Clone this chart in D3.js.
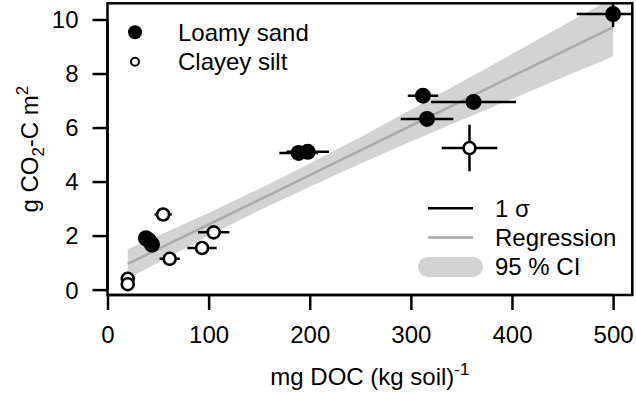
<!DOCTYPE html>
<html>
<head>
<meta charset="utf-8">
<script src="https://cdn.jsdelivr.net/npm/d3@7"></script>
<style>
  body { margin: 0; background: #fff; }
  text { font-family: "Liberation Sans", Arial, sans-serif; fill: #000; }
</style>
</head>
<body>
<svg id="chart" width="636" height="394"></svg>
<script>
// Loamy sand (filled points)
const loamyDoc   = [500, 312, 362, 316, 189, 198, 38, 41, 44];
const loamyCo2   = [10.2, 7.18, 6.95, 6.32, 5.06, 5.10, 1.90, 1.82, 1.67];
const loamyDocSd = [36, 15, 42, 26, 19, 21, 3, 3, 3];
const loamyCo2Sd = [0.48, 0.15, 0.12, 0.15, 0.1, 0.1, 0.1, 0.1, 0.1];

// Clayey silt (open points)
const clayDoc   = [358, 55, 105, 93.5, 61.5, 20, 20];
const clayCo2   = [5.24, 2.78, 2.12, 1.54, 1.14, 0.40, 0.20];
const clayDocSd = [27.5, 8.5, 15.5, 14.5, 10, 2, 2];
const clayCo2Sd = [0.86, 0.1, 0.1, 0.1, 0.1, 0.05, 0.05];

// regression line and 95 % confidence band
const regDoc = [20, 500];
const regCo2 = [0.95, 9.72];
const ciDoc   = [20, 60, 100, 150, 200, 250, 300, 350, 400, 450, 500];
const ciLower = [0.40, 1.20, 1.99, 2.93, 3.81, 4.66, 5.48, 6.28, 7.06, 7.85, 8.63];
const ciUpper = [1.50, 2.16, 2.84, 3.73, 4.67, 5.64, 6.66, 7.69, 8.72, 9.77, 10.81];

const xTicks = [0, 100, 200, 300, 400, 500];
const yTicks = [0, 2, 4, 6, 8, 10];

const svg = d3.select("#chart");
const FS = 24;

const x = d3.scaleLinear().domain([0, 519]).range([107.5, 632.3]);
const y = d3.scaleLinear().domain([-0.2, 10.6]).range([295, 3.3]);

svg.append("clipPath").attr("id", "plotclip")
  .append("rect")
  .attr("x", x.range()[0]).attr("y", y.range()[1])
  .attr("width", x.range()[1] - x.range()[0])
  .attr("height", y.range()[0] - y.range()[1]);

const plot = svg.append("g").attr("clip-path", "url(#plotclip)");

// confidence band
const band = ciDoc.map((d, i) => ({ x: d, lo: ciLower[i], hi: ciUpper[i] }));
plot.append("path")
  .datum(band)
  .attr("fill", "#d3d3d3")
  .attr("d", d3.area().x(d => x(d.x)).y0(d => y(d.lo)).y1(d => y(d.hi)));

// regression line
plot.append("path")
  .datum(regDoc.map((d, i) => [d, regCo2[i]]))
  .attr("fill", "none")
  .attr("stroke", "#a9a9a9")
  .attr("stroke-width", 2.5)
  .attr("d", d3.line().x(d => x(d[0])).y(d => y(d[1])));

const loamy = loamyDoc.map((d, i) => ({ x: d, y: loamyCo2[i], sx: loamyDocSd[i], sy: loamyCo2Sd[i] }));
const clay = clayDoc.map((d, i) => ({ x: d, y: clayCo2[i], sx: clayDocSd[i], sy: clayCo2Sd[i] }));
const all = loamy.concat(clay);

// 1 sigma error bars
const bars = plot.append("g").attr("stroke", "#000").attr("stroke-width", 2.5);
bars.selectAll(".ex").data(all).enter().append("line")
  .attr("x1", d => x(d.x - d.sx)).attr("x2", d => x(d.x + d.sx))
  .attr("y1", d => y(d.y)).attr("y2", d => y(d.y));
bars.selectAll(".ey").data(all).enter().append("line")
  .attr("x1", d => x(d.x)).attr("x2", d => x(d.x))
  .attr("y1", d => y(d.y - d.sy)).attr("y2", d => y(d.y + d.sy));

// points
plot.selectAll(".loamy").data(loamy).enter().append("circle")
  .attr("cx", d => x(d.x)).attr("cy", d => y(d.y)).attr("r", 8)
  .attr("fill", "#000");
plot.selectAll(".clay").data(clay).enter().append("circle")
  .attr("cx", d => x(d.x)).attr("cy", d => y(d.y)).attr("r", 6)
  .attr("fill", "#fff").attr("stroke", "#000").attr("stroke-width", 2.6);

// box
svg.append("rect")
  .attr("x", x.range()[0]).attr("y", y.range()[1])
  .attr("width", x.range()[1] - x.range()[0])
  .attr("height", y.range()[0] - y.range()[1])
  .attr("fill", "none").attr("stroke", "#000").attr("stroke-width", 2.5);

// axes
const xAxis = svg.append("g")
  .attr("transform", `translate(0,${y.range()[0]})`)
  .call(d3.axisBottom(x).tickValues(xTicks).tickSize(15).tickPadding(30).tickSizeOuter(0));
xAxis.select(".domain").attr("d", `M${x(0)},0H${x(500)}`);
const yAxis = svg.append("g")
  .attr("transform", `translate(${x.range()[0]},0)`)
  .call(d3.axisLeft(y).tickValues(yTicks).tickSize(15).tickPadding(14).tickSizeOuter(0));
yAxis.select(".domain").attr("d", `M0,${y(0)}V${y(10)}`);

[xAxis, yAxis].forEach(a => {
  a.selectAll("path, line").attr("stroke", "#000").attr("stroke-width", 2.5);
  a.selectAll("text").attr("font-size", FS).attr("font-family", "Liberation Sans, Arial, sans-serif");
});
xAxis.selectAll("text").attr("dy", null).attr("y", 48);
yAxis.selectAll("text").attr("dy", "0.35em");

// axis titles
const xt = svg.append("text")
  .attr("x", (x.range()[0] + x.range()[1]) / 2).attr("y", 385)
  .attr("text-anchor", "middle").attr("font-size", FS);
xt.append("tspan").text("mg DOC (kg soil)");
xt.append("tspan").attr("font-size", 17).attr("dy", -10).text("-1");

const yt = svg.append("text")
  .attr("transform", `translate(38,${(y.range()[0] + y.range()[1]) / 2}) rotate(-90)`)
  .attr("text-anchor", "middle").attr("font-size", FS);
yt.append("tspan").text("g CO");
yt.append("tspan").attr("font-size", 17).attr("dy", 6).text("2");
yt.append("tspan").attr("dy", -6).text("-C m");
yt.append("tspan").attr("font-size", 17).attr("dy", -10).text("2");

// legend: soil types
const soilNames = ["Loamy sand", "Clayey silt"];
const leg1 = svg.append("g");
soilNames.forEach((name, i) => {
  const cy = 32.3 + i * 29.4;
  if (i === 0) {
    leg1.append("circle").attr("cx", 135).attr("cy", cy).attr("r", 7).attr("fill", "#000");
  } else {
    leg1.append("circle").attr("cx", 135).attr("cy", cy).attr("r", 4)
      .attr("fill", "#fff").attr("stroke", "#000").attr("stroke-width", 2);
  }
  leg1.append("text").attr("x", 178).attr("y", cy).attr("dy", "0.35em")
    .attr("font-size", FS).text(name);
});

// legend: line types
const lineNames = ["1 σ", "Regression", "95 % CI"];
const leg2 = svg.append("g");
lineNames.forEach((name, i) => {
  const cy = 208.3 + i * 29.3;
  if (i === 0) {
    leg2.append("line").attr("x1", 428).attr("x2", 473).attr("y1", cy).attr("y2", cy)
      .attr("stroke", "#000").attr("stroke-width", 2.5);
  } else if (i === 1) {
    leg2.append("line").attr("x1", 428).attr("x2", 473).attr("y1", cy).attr("y2", cy)
      .attr("stroke", "#a9a9a9").attr("stroke-width", 2.5);
  } else {
    leg2.append("rect").attr("x", 418).attr("y", cy - 10).attr("width", 65).attr("height", 20)
      .attr("rx", 10).attr("fill", "#d3d3d3");
  }
  leg2.append("text").attr("x", 495).attr("y", cy).attr("dy", "0.35em")
    .attr("font-size", FS).text(name);
});
</script>
</body>
</html>
